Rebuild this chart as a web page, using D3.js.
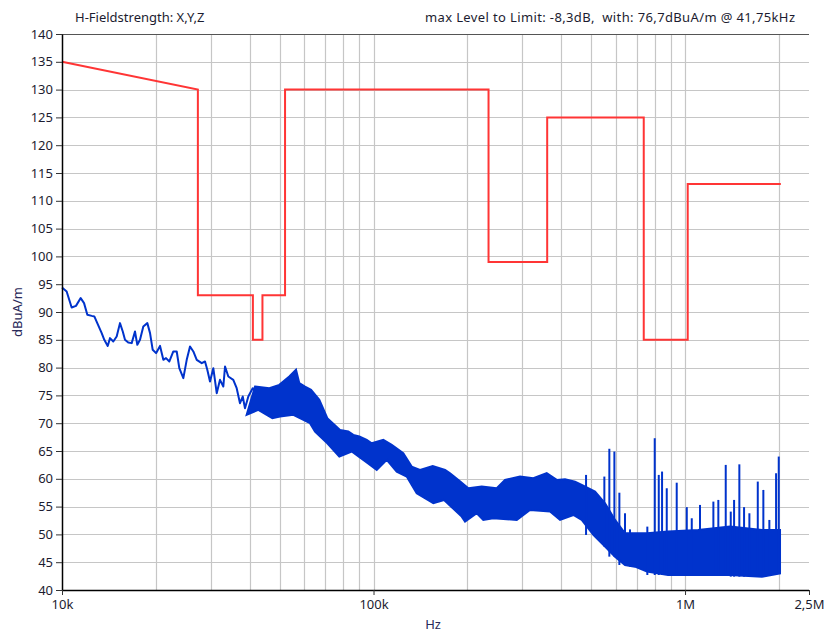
<!DOCTYPE html>
<html>
<head>
<meta charset="utf-8">
<script src="https://cdn.jsdelivr.net/npm/d3@7"></script>
<style>
  body { margin: 0; background: #fff; }
  svg { display: block; font-family: "Noto Sans", "Open Sans", sans-serif; }
</style>
</head>
<body>
<div id="chart"></div>
<script>
// limit line (kHz, dBuA/m)
const limitFreq = [10, 27.3, 27.3, 41, 41, 44, 44, 52, 52, 234, 234, 361, 361, 737, 737, 1020, 1020, 2030];
const limitVal = [135, 130, 93, 93, 85, 85, 93, 93, 130, 130, 99, 99, 125, 125, 85, 85, 113, 113];

// measured trace, low frequency part (single line)
const lineFreq = [10.0, 10.35, 10.74, 11.09, 11.48, 11.77, 12.06, 12.46, 12.70, 12.98, 13.41, 13.67, 14.02, 14.26,
  14.61, 14.98, 15.35, 15.67, 15.93, 16.32, 16.74, 17.15, 17.45, 17.80, 18.24, 18.79, 19.17, 19.55, 20.04, 20.64,
  21.15, 21.57, 22.11, 22.77, 23.35, 23.80, 24.52, 25.14, 25.76, 26.40, 27.07, 28.09, 28.78, 29.27, 29.86, 30.60,
  31.38, 32.15, 32.95, 33.37, 34.19, 35.47, 36.37, 37.27, 38.03, 38.68, 39.64, 40.94, 42.17];
const lineVal = [94.4, 93.7, 90.8, 91.1, 92.5, 91.6, 89.5, 89.3, 89.2, 88.0, 86.2, 85.0, 83.9, 85.3,
  84.7, 85.6, 88.0, 86.5, 85.0, 84.5, 84.4, 86.5, 84.1, 85.0, 87.4, 88.0, 86.2, 83.2, 82.6, 83.9,
  81.4, 81.7, 81.1, 82.9, 82.9, 79.9, 78.1, 81.4, 83.8, 82.9, 81.4, 80.8, 81.1, 79.6, 77.5, 79.9,
  75.4, 77.8, 76.6, 80.2, 78.4, 77.8, 76.3, 73.6, 74.8, 72.7, 74.8, 76.3, 75.4];

// measured trace, dense part: upper edge (peaks)
const bandTopFreq = [41.65, 46.30, 49.84, 53.66, 56.39, 57.78, 60.27, 63.01, 66.99, 71.07, 78.06, 82.98, 86.13, 90.03,
  95.11, 98.67, 107.5, 114.4, 124.6, 132.6, 141.0, 154.9, 169.7, 176.1, 187.3, 201.6, 222.5, 248.6, 264.3, 295.3,
  325.9, 359.7, 387.4, 411.9, 443.5, 466.0, 514.1, 553.6, 596.0, 641.7, 690.9, 755.1, 881.8, 1101, 1395, 1767, 2018];
const bandTopVal = [76.6, 76.3, 76.9, 78.4, 79.6, 77.2, 76.6, 76.0, 74.2, 70.9, 68.8, 68.5, 67.9, 67.6,
  67.0, 66.4, 67.0, 66.1, 64.6, 62.2, 61.6, 62.3, 61.6, 61.0, 59.8, 58.3, 58.6, 58.3, 59.8, 60.4,
  60.1, 61.0, 59.8, 59.9, 59.5, 58.9, 57.7, 55.6, 52.6, 50.2, 50.2, 50.2, 50.5, 50.8, 51.4, 50.8, 50.8];

// measured trace, dense part: lower edge (dips)
const bandBotFreq = [39.16, 42.67, 47.34, 50.11, 55.29, 62.53, 64.90, 71.07, 77.66, 85.11, 95.82, 102.4, 110.3, 118.7,
  127.8, 137.6, 155.6, 168.4, 191.9, 196.7, 214.5, 225.1, 242.4, 288.3, 317.9, 368.7, 397.0, 438.1, 466.0, 507.8,
  553.6, 596.0, 641.7, 690.9, 755.1, 881.8, 1101, 1395, 1767, 2018];
const bandBotVal = [71.5, 72.4, 70.9, 71.2, 71.5, 70.0, 68.5, 66.4, 64.0, 64.9, 62.8, 61.6, 63.4, 61.3,
  60.4, 57.4, 55.6, 56.2, 53.2, 52.3, 53.8, 52.6, 52.9, 52.6, 54.4, 54.1, 52.6, 53.5, 52.6, 49.9,
  47.8, 46.0, 44.5, 44.2, 43.3, 42.7, 42.7, 42.7, 42.4, 43.0];

// single spikes above the band
const spikeFreq = [481.1, 550.8, 571.5, 593.2, 615.5, 641.7, 665.8, 756.8, 799.3, 823.5, 843.8, 873.6, 940.4, 1013,
  1051, 1117, 1233, 1279, 1351, 1402, 1437, 1494, 1547, 1609, 1712, 1784, 1865, 1960, 1999];
const spikeVal = [60.7, 60.4, 65.4, 64.9, 57.5, 53.8, 50.9, 51.4, 67.3, 60.7, 61.3, 58.3, 59.3, 54.9,
  52.9, 55.3, 55.9, 56.2, 62.5, 54.1, 56.2, 62.6, 54.9, 53.8, 59.5, 58.0, 52.6, 61.0, 64.0];

const yTicks = d3.range(40, 141, 5);
const xTickVals = [10, 100, 1000, 2500];
const xTickLabels = ["10k", "100k", "1M", "2,5M"];

const W = 824, H = 634;
const svg = d3.select("#chart").append("svg").attr("width", W).attr("height", H);

const x = d3.scaleLog().domain([10, 2500]).range([62, 809]);
const y = d3.scaleLinear().domain([40, 140]).range([590, 34]);

// grid
const gridX = [];
[10, 100, 1000].forEach(dec => {
  for (let m = 1; m < 10; m++) {
    const v = dec * m;
    if (v > 10 && v <= 2500) gridX.push(v);
  }
});
svg.append("g").selectAll("line").data(gridX).join("line")
  .attr("x1", d => Math.round(x(d)) + 0.5).attr("x2", d => Math.round(x(d)) + 0.5)
  .attr("y1", y(140)).attr("y2", y(40))
  .attr("stroke", "#c6c6c6").attr("stroke-width", 1.2);
svg.append("g").selectAll("line").data(yTicks.filter(d => d > 40 && d < 140)).join("line")
  .attr("x1", x(10)).attr("x2", x(2500))
  .attr("y1", d => Math.round(y(d)) + 0.5).attr("y2", d => Math.round(y(d)) + 0.5)
  .attr("stroke", "#c6c6c6").attr("stroke-width", 1.2);
svg.append("line")
  .attr("x1", x(10)).attr("x2", x(2500))
  .attr("y1", Math.round(y(140)) + 0.5).attr("y2", Math.round(y(140)) + 0.5)
  .attr("stroke", "#555").attr("stroke-width", 1);

// limit
const limit = limitFreq.map((f, i) => ({ f, v: limitVal[i] }));
svg.append("path").datum(limit)
  .attr("fill", "none").attr("stroke", "#ff3535").attr("stroke-width", 2)
  .attr("d", d3.line().x(d => x(d.f)).y(d => y(d.v)));

// trace
const blue = "#0033cc";
const topEdge = bandTopFreq.map((f, i) => ({ f, v: bandTopVal[i] }));
const botEdge = bandBotFreq.map((f, i) => ({ f, v: bandBotVal[i] }));
const outline = topEdge.concat(botEdge.slice().reverse());
svg.append("path").datum(outline)
  .attr("fill", blue).attr("stroke", blue).attr("stroke-width", 2)
  .attr("d", d3.line().x(d => x(d.f)).y(d => y(d.v)).curve(d3.curveLinearClosed));

const trace = lineFreq.map((f, i) => ({ f, v: lineVal[i] }));
svg.append("path").datum(trace)
  .attr("fill", "none").attr("stroke", blue).attr("stroke-width", 2)
  .attr("stroke-linejoin", "round")
  .attr("d", d3.line().x(d => x(d.f)).y(d => y(d.v)));

const bis = d3.bisector(d => d.f).left;
svg.append("g").selectAll("line").data(spikeFreq.map((f, i) => ({ f, v: spikeVal[i] }))).join("line")
  .attr("x1", d => x(d.f)).attr("x2", d => x(d.f))
  .attr("y1", d => y(d.v))
  .attr("y2", d => y(botEdge[Math.min(bis(botEdge, d.f), botEdge.length - 1)].v))
  .attr("stroke", blue).attr("stroke-width", 2);

// axes
const yAxis = svg.append("g").attr("transform", `translate(${x(10)},0)`)
  .call(d3.axisLeft(y).tickValues(yTicks).tickSize(6).tickSizeOuter(0).tickPadding(3));
const xAxis = svg.append("g").attr("transform", `translate(0,${y(40)})`)
  .call(d3.axisBottom(x).tickValues(xTickVals).tickFormat((d, i) => xTickLabels[i])
    .tickSize(5).tickSizeOuter(0).tickPadding(5));
[yAxis, xAxis].forEach(a => {
  a.selectAll("text").attr("fill", "#1c1c30").style("font-size", "13px")
    .style("font-family", "'Noto Sans', sans-serif");
  a.selectAll("line").attr("stroke", "#333");
  a.select(".domain").attr("stroke", "#000").attr("stroke-width", 1.5);
});
xAxis.select(".domain").attr("d", `M${x(10)},0.5H${x(2500)}`);

// labels
svg.append("text").attr("x", 75).attr("y", 22).attr("fill", "#1c1c30")
  .style("font-size", "13px").text("H-Fieldstrength: X,Y,Z");
svg.append("text").attr("x", 425).attr("y", 22).attr("fill", "#1c1c30")
  .attr("textLength", 370).attr("lengthAdjust", "spacing")
  .style("font-size", "13px").attr("xml:space", "preserve")
  .text("max Level to Limit: -8,3dB,  with: 76,7dBuA/m @ 41,75kHz");
svg.append("text").attr("x", 433).attr("y", 629).attr("text-anchor", "middle").attr("fill", "#2a2a5a")
  .style("font-size", "13px").text("Hz");
svg.append("text").attr("transform", "translate(22,312) rotate(-90)").attr("text-anchor", "middle")
  .attr("fill", "#2a2a5a").style("font-size", "13px").text("dBuA/m");
</script>
</body>
</html>
